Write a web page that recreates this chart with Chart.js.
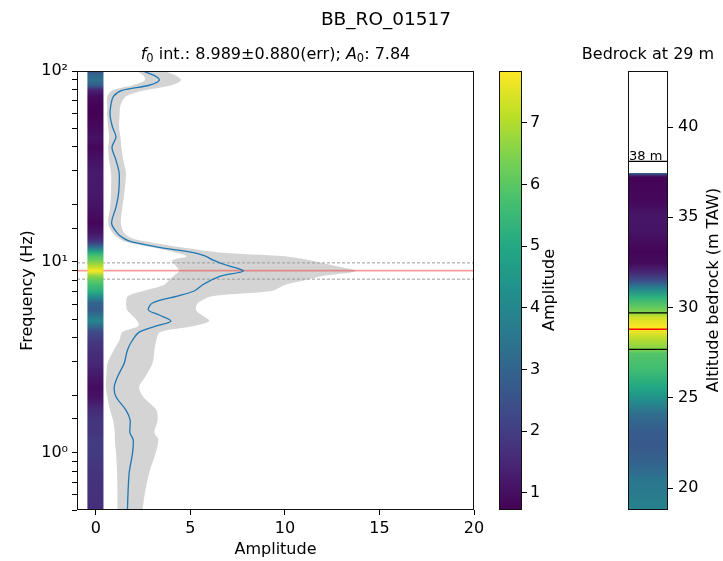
<!DOCTYPE html>
<html><head><meta charset="utf-8">
<script src="https://cdn.jsdelivr.net/npm/chart.js@4.4.1/dist/chart.umd.min.js"></script>
<style>
html,body{margin:0;padding:0;background:#fff;}
#wrap{position:relative;width:723px;height:561px;overflow:hidden;background:#fff;}
canvas{position:absolute;top:0;}
</style></head><body>
<div id="wrap">
<canvas id="main" width="490" height="561" style="left:0"></canvas>
<canvas id="cbar" width="85" height="561" style="left:490px"></canvas>
<canvas id="rock" width="148" height="561" style="left:575px"></canvas>
</div>
<script>
// --- data ---
const stationId = "BB_RO_01517";
const f0 = 8.989, f0Err = 0.880, a0 = 7.84;
const freq  = [0.50,0.586,0.783,1.0,1.17,1.27,1.48,1.67,1.96,2.21,2.49,2.95,3.45,3.89,4.28,4.61,4.89,5.26,5.59,6.08,6.61,7.03,7.55,8.02,8.42,8.94,9.6,10.2,10.7,11.2,11.9,12.7,13.3,14.1,15.9,19.3,22.9,29.1,34.1,39.9,45.0,50.7,58.6,66.1,73.7,79.2,84.2,89.4,94.9,100];
const amp   = [1.67,1.69,1.76,1.94,1.97,1.80,1.81,1.59,1.06,0.97,1.14,1.50,1.67,1.94,2.29,3.20,3.97,3.35,2.78,2.99,4.30,5.20,5.63,6.10,6.60,7.80,6.90,6.20,5.80,5.10,3.35,1.90,1.45,1.14,0.83,1.06,1.20,1.23,1.06,0.85,1.06,0.88,0.75,0.79,0.93,1.38,2.82,3.35,3.08,2.47];
const ampLo = [1.14,1.14,1.12,1.06,1.00,1.00,0.90,0.75,0.60,0.53,0.55,0.62,0.95,1.25,1.40,2.25,2.20,1.90,1.65,1.60,1.70,2.50,3.60,3.88,4.10,4.40,4.20,4.05,4.80,4.20,3.00,1.60,1.20,0.90,0.65,0.75,0.80,0.80,0.70,0.65,0.70,0.65,0.60,0.60,0.61,0.88,1.94,2.60,2.50,2.20];
const ampHi = [2.47,2.56,2.82,3.17,3.30,3.10,3.26,3.20,2.50,2.29,2.60,3.00,3.10,3.20,3.40,5.20,6.00,5.60,5.29,5.40,6.20,9.30,10.0,11.1,12.0,13.76,12.5,11.3,10.0,6.50,4.50,2.80,1.90,1.50,1.32,1.40,1.50,1.59,1.45,1.35,1.30,1.23,1.25,1.30,1.60,2.60,4.00,4.50,4.20,3.52];
const stripX = [-0.45, 0.4];
const xTicks = [0, 5, 10, 15, 20];
const cbRange = [0.72, 7.84];
const cbTicks = [1, 2, 3, 4, 5, 6, 7];
// bedrock column (altitude m TAW -> amplitude shown by colour)
const colAlt = [18.8,18.98,20.46,21.38,22.3,23.22,24.15,24.88,25.62,26.54,27.47,27.69,28.2,28.81,28.94,29.49,29.73,30.04,30.6,31.06,31.43,31.89,32.44,33.18,34.29,35.02,35.95,37.23,37.45];
const colAmp = [3.8,3.8,3.5,3.0,2.7,2.8,3.3,4.2,5.0,5.6,5.9,6.5,7.0,7.8,7.84,7.3,6.5,6.1,5.2,3.9,2.6,1.6,0.9,0.8,1.1,1.15,0.85,0.8,3.0];
const surfaceAlt = 38.1, bedAlt = 28.8, bedLo = 27.69, bedHi = 29.71;
const rockRange = [18.8, 43.1];
const rockTicks = [20, 25, 30, 35, 40];

const FONT = "DejaVu Sans";
Chart.defaults.font.family = FONT;
Chart.defaults.font.size = 16;
Chart.defaults.color = "#000";

const VIR = ["#440154","#482475","#414487","#355f8d","#2a788e","#21918c","#22a884","#44bf70","#7ad151","#bddf26","#fde725"];
const hex = h => [1,3,5].map(i=>parseInt(h.substr(i,2),16));
function viridis(t){
  t = Math.min(1, Math.max(0, t));
  const k = t*10, i = Math.min(9, Math.floor(k)), u = k-i;
  const a = hex(VIR[i]), b = hex(VIR[i+1]);
  return "rgb("+a.map((v,j)=>Math.round(v+(b[j]-v)*u)).join(",")+")";
}
const norm = v => (v-cbRange[0])/(cbRange[1]-cbRange[0]);

// vertical gradient following values along the y scale
function valueGradient(ys, vals){
  return (ctx)=>{
    const ch = ctx.chart, ca = ch.chartArea;
    if(!ca) return "rgba(0,0,0,0)";
    const sy = ch.scales.y, g = ch.ctx.createLinearGradient(0, ca.bottom, 0, ca.top);
    ys.forEach((y,i)=>{
      const p = (ca.bottom - sy.getPixelForValue(y))/(ca.bottom - ca.top);
      g.addColorStop(Math.min(1, Math.max(0, p)), viridis(norm(vals[i])));
    });
    return g;
  };
}
// full colormap from bottom to top of the chart area
function cmapGradient(ctx){
  const ch = ctx.chart, ca = ch.chartArea;
  if(!ca) return "rgba(0,0,0,0)";
  const g = ch.ctx.createLinearGradient(0, ca.bottom, 0, ca.top);
  VIR.forEach((c,i)=>g.addColorStop(i/(VIR.length-1), c));
  return g;
}
const rect = (x0,x1,y0,y1)=>[{x:x0,y:y0},{x:x1,y:y0},{x:x1,y:y1},{x:x0,y:y1}];
const hline = (x0,x1,y)=>[{x:x0,y},{x:x1,y}];
const lineDs = (data, color, width, extra)=>Object.assign({data, showLine:true, fill:false, borderColor:color, borderWidth:width, pointRadius:0}, extra||{});

const frame = { id:"frame", afterDatasetsDraw(ch){
  const c = ch.ctx, a = ch.chartArea; c.save(); c.strokeStyle = "#111"; c.lineWidth = 1;
  c.strokeRect(Math.round(a.left)+0.5, Math.round(a.top)+0.5, Math.round(a.right-a.left)-1, Math.round(a.bottom-a.top)-1);
  c.restore(); } };
function vlabel(text, x, y){ return { id:"vlabel", afterDraw(ch){
  const c = ch.ctx; c.save(); c.translate(x, y); c.rotate(-Math.PI/2);
  c.font = "16px '"+FONT+"'"; c.fillStyle = "#000"; c.textAlign = "center"; c.textBaseline = "middle";
  c.fillText(text, 0, 0); c.restore(); } }; }
function richText(segs, cx, base){
  return { id:"rich", afterDraw(ch){
    const c = ch.ctx; c.save(); c.fillStyle = "#000"; c.textBaseline = "alphabetic";
    const fonts = segs.map(s=>(s.it?"italic ":"")+(s.sz||16)+"px '"+FONT+"'");
    let w = 0; segs.forEach((s,i)=>{ c.font = fonts[i]; w += c.measureText(s.t).width; });
    let x = (typeof cx === "function" ? cx(ch) : cx) - w/2;
    segs.forEach((s,i)=>{ c.font = fonts[i]; c.fillText(s.t, x, base + (s.dy||0)); x += c.measureText(s.t).width; });
    c.restore(); } };
}
const ticksCommon = { font:{size:16}, color:"#000" };
const gridCommon = { drawOnChartArea:false, drawTicks:true, tickLength:5, color:"#000", tickColor:"#000" };
const sup = {"-1":"⁻¹","0":"⁰","1":"¹","2":"²"};

// ---------- main panel ----------
const bandPts = freq.map((f,i)=>({x:ampLo[i], y:f})).concat(freq.map((f,i)=>({x:ampHi[i], y:f})).reverse());
const meanPts = freq.map((f,i)=>({x:amp[i], y:f}));
new Chart(document.getElementById("main"), {
  type:"scatter",
  data:{ datasets:[
    lineDs(rect(stripX[0], stripX[1], freq[0], freq[freq.length-1]), "rgba(0,0,0,0)", 0, {fill:"shape", backgroundColor:valueGradient(freq, amp), order:0}),
    lineDs(meanPts, "#1f77b4", 1.3, {tension:0.3, order:1}),
    lineDs(hline(-1, 20, f0), "rgba(240,60,60,0.5)", 1.8, {order:2}),
    lineDs(hline(-1, 20, f0+f0Err), "#9a9a9a", 1, {borderDash:[3,2], order:2}),
    lineDs(hline(-1, 20, f0-f0Err), "#9a9a9a", 1, {borderDash:[3,2], order:2}),
    lineDs(bandPts, "rgba(0,0,0,0)", 0, {fill:"shape", backgroundColor:"#d4d4d4", tension:0.3, order:3})
  ]},
  options:{
    responsive:false, animation:false, events:[],
    layout:{padding:{top:71, right:16, left:0, bottom:0}},
    plugins:{legend:{display:false}, tooltip:{enabled:false}},
    scales:{
      x:{ type:"linear", min:-1, max:20,
          afterBuildTicks: s=>{ s.ticks = xTicks.map(v=>({value:v})); },
          ticks:Object.assign({padding:4}, ticksCommon), grid:gridCommon, border:{display:false},
          title:{display:true, text:"Amplitude", font:{size:16}, padding:{top:0, bottom:2}},
          afterFit: s=>{ s.height = 51; } },
      y:{ type:"logarithmic", min:0.5, max:100,
          ticks:Object.assign({autoSkip:false, padding:4, callback:(v)=>{ const l=Math.log10(v), r=Math.round(l); return Math.abs(l-r)<1e-6 ? "10"+sup[r] : ""; }}, ticksCommon),
          grid:gridCommon, border:{display:false},
          title:{display:true, text:"Frequency (Hz)", font:{size:16}, padding:{top:18, bottom:0}},
          afterFit: s=>{ s.width = 77; } }
    }
  },
  plugins:[frame,
    richText([{t:stationId, sz:18.5}], 386, 25),
    richText([{t:"f",it:true},{t:"0",sz:11.5,dy:3},{t:" int.: "+f0.toFixed(3)+"±"+f0Err.toFixed(3)+"(err); "},{t:"A",it:true},{t:"0",sz:11.5,dy:3},{t:": "+a0.toFixed(2)}],
      ch=>(ch.chartArea.left+ch.chartArea.right)/2, 59)]
});

// ---------- colour bar ----------
new Chart(document.getElementById("cbar"), {
  type:"scatter",
  data:{ datasets:[
    lineDs(rect(0, 1, cbRange[0], cbRange[1]), "rgba(0,0,0,0)", 0, {fill:"shape", backgroundColor:cmapGradient})
  ]},
  options:{
    responsive:false, animation:false, events:[],
    layout:{padding:{top:71, bottom:51, left:9, right:0}},
    plugins:{legend:{display:false}, tooltip:{enabled:false}},
    scales:{
      x:{type:"linear", min:0, max:1, display:false},
      y:{ type:"linear", position:"right", min:cbRange[0], max:cbRange[1],
          afterBuildTicks: s=>{ s.ticks = cbTicks.map(v=>({value:v})); },
          ticks:Object.assign({padding:3}, ticksCommon), grid:gridCommon, border:{display:false},
          afterFit: s=>{ s.width = 53; } }
    }
  },
  plugins:[frame, vlabel("Amplitude", 60, 290)]
});

// ---------- bedrock column ----------
new Chart(document.getElementById("rock"), {
  type:"scatter",
  data:{ datasets:[
    lineDs(hline(0, 1, bedAlt), "#ff0000", 1.5, {order:0}),
    lineDs(hline(0, 1, bedHi), "#000", 1.2, {order:0}),
    lineDs(hline(0, 1, bedLo), "#000", 1.2, {order:0}),
    lineDs(hline(0, 1, surfaceAlt), "#000", 1.2, {order:0}),
    lineDs(rect(0, 1, colAlt[0], colAlt[colAlt.length-1]), "rgba(0,0,0,0)", 0, {fill:"shape", backgroundColor:valueGradient(colAlt, colAmp), order:1})
  ]},
  options:{
    responsive:false, animation:false, events:[],
    layout:{padding:{top:71, bottom:51, left:53, right:0}},
    plugins:{legend:{display:false}, tooltip:{enabled:false}},
    scales:{
      x:{type:"linear", min:0, max:1, display:false},
      y:{ type:"linear", position:"right", min:rockRange[0], max:rockRange[1],
          afterBuildTicks: s=>{ s.ticks = rockTicks.map(v=>({value:v})); },
          ticks:Object.assign({padding:5}, ticksCommon), grid:gridCommon, border:{display:false},
          afterFit: s=>{ s.width = 55; } }
    }
  },
  plugins:[frame, vlabel("Altitude bedrock (m TAW)", 139, 290),
    richText([{t:"Bedrock at "+Math.round(bedAlt)+" m"}], ch=>(ch.chartArea.left+ch.chartArea.right)/2, 59),
    { id:"surf", afterDraw(ch){ const c=ch.ctx; c.save(); c.font="13px '"+FONT+"'"; c.fillStyle="#000";
        c.textBaseline="alphabetic"; c.fillText(Math.round(surfaceAlt)+" m", ch.chartArea.left+1, ch.scales.y.getPixelForValue(surfaceAlt)-1); c.restore(); } }]
});
</script>
</body></html>
